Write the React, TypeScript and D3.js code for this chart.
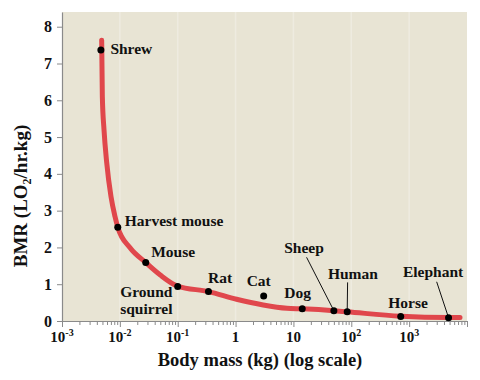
import React, { Component } from 'react';
import * as d3 from 'd3';

// 动物数据 (体重 kg, BMR L O2/hr.kg)
const animals = ['Shrew', 'Harvest mouse', 'Mouse', 'Ground squirrel', 'Rat', 'Cat', 'Dog', 'Sheep', 'Human', 'Horse', 'Elephant'];
const bodyMass = [0.0047, 0.0092, 0.028, 0.1, 0.34, 3.06, 14.2, 50, 85, 715, 4800];
const bmr = [7.37, 2.55, 1.59, 0.94, 0.8, 0.68, 0.33, 0.28, 0.25, 0.12, 0.09];

// 拟合曲线 (读取自图)
const curveMass = [0.00485, 0.00498, 0.00532, 0.00593, 0.00703, 0.00824, 0.0092, 0.015, 0.028, 0.05, 0.099, 0.34, 1.04, 3.0, 7.7, 14.2, 50, 85, 715, 4800, 7570];
const curveBmr = [7.63, 6.1, 5.2, 4.3, 3.38, 2.84, 2.55, 1.99, 1.59, 1.25, 0.95, 0.8, 0.59, 0.435, 0.345, 0.33, 0.28, 0.25, 0.13, 0.095, 0.095];

const yTicks = [0, 1, 2, 3, 4, 5, 6, 7, 8];
const xDecades = [-3, -2, -1, 0, 1, 2, 3, 4];
const xLabelPowers = [-3, -2, -1, 0, 1, 2, 3];

// 标签相对于点的偏移
const labelLayout: Record<string, { dx: number; dy: number; wrap?: boolean; leader?: [number, number] }> = {
  Shrew: { dx: 9.5, dy: 4 },
  'Harvest mouse': { dx: 7, dy: -1 },
  Mouse: { dx: 5.5, dy: -6 },
  'Ground squirrel': { dx: -57.5, dy: 10.5, wrap: true },
  Rat: { dx: -0.5, dy: -8.5 },
  Cat: { dx: -17, dy: -10 },
  Dog: { dx: -18, dy: -10.7 },
  Sheep: { dx: -49.7, dy: -58, leader: [-27.3, -53.4] },
  Human: { dx: -19.3, dy: -32.7, leader: [0.4, -29.4] },
  Horse: { dx: -12.4, dy: -8.8 },
  Elephant: { dx: -45.6, dy: -40.6, leader: [-11.9, -35.9] },
};

class BmrChart extends Component {
  svgRef = React.createRef<SVGSVGElement>();

  componentDidMount() {
    this.draw();
  }

  componentDidUpdate() {
    this.draw();
  }

  draw() {
    const svg = d3.select(this.svgRef.current);
    svg.selectAll('*').remove();

    const left = 62;
    const right = 467;
    const top = 12;
    const bottom = 321;
    const font = '"Liberation Serif", "Times New Roman", serif';
    const axisColor = '#8a8a8a';

    const x = d3.scaleLog().domain([1e-3, 1e4]).range([left, right]);
    const y = d3.scaleLinear().domain([0, 8.4]).range([bottom, top]);

    svg
      .append('rect')
      .attr('x', left)
      .attr('y', top)
      .attr('width', right - left)
      .attr('height', bottom - top)
      .attr('fill', '#e8e4d4');

    // 淡色网格
    svg
      .append('g')
      .selectAll('line')
      .data(xDecades.slice(1, -1))
      .join('line')
      .attr('x1', (d) => x(10 ** d))
      .attr('x2', (d) => x(10 ** d))
      .attr('y1', top)
      .attr('y2', bottom)
      .attr('stroke', '#eeebe0')
      .attr('stroke-width', 1.5);

    // y轴
    const axisY = d3.axisLeft(y).tickValues(yTicks).tickSize(5).tickSizeOuter(0).tickPadding(5).tickFormat(d3.format('d'));
    const axisYG = svg.append('g').attr('transform', `translate(${left},0)`).call(axisY);
    axisYG.select('.domain').attr('stroke', axisColor).attr('stroke-width', 1.2);
    axisYG.selectAll('.tick line').attr('stroke', axisColor);
    axisYG
      .selectAll('.tick text')
      .attr('fill', '#111')
      .attr('font-family', font)
      .attr('font-weight', 'bold')
      .attr('font-size', 16);

    // x轴 (对数)
    const xTickValues: number[] = [];
    xDecades.forEach((p) => {
      for (let k = 1; k <= 9; k++) {
        if (p < 4 || k === 1) xTickValues.push(k * 10 ** p);
      }
    });
    const isMajor = (d: number) => Math.abs(Math.log10(d) - Math.round(Math.log10(d))) < 1e-9;
    const axisX = d3.axisBottom(x).tickValues(xTickValues).tickSize(4).tickSizeOuter(0).tickFormat(() => '');
    const axisXG = svg.append('g').attr('transform', `translate(0,${bottom})`).call(axisX);
    axisXG.select('.domain').attr('stroke', axisColor).attr('stroke-width', 1.2);
    axisXG
      .selectAll('.tick line')
      .attr('stroke', axisColor)
      .attr('y2', (d: any) => (isMajor(d) ? 6 : 4));

    svg
      .append('g')
      .selectAll('text')
      .data(xLabelPowers)
      .join('text')
      .attr('x', (d) => x(10 ** d))
      .attr('y', 342)
      .attr('text-anchor', 'middle')
      .attr('font-family', font)
      .attr('font-weight', 'bold')
      .attr('font-size', 15)
      .attr('fill', '#111')
      .each(function (d) {
        const t = d3.select(this);
        if (d === 0) t.text('1');
        else if (d === 1) t.text('10');
        else {
          t.append('tspan').text('10');
          t.append('tspan').attr('dy', -6).attr('font-size', 10).text(d < 0 ? `-${-d}` : `${d}`);
        }
      });

    // 曲线
    const line = d3
      .line<number>()
      .x((d, i) => x(curveMass[i]))
      .y((d) => y(d))
      .curve(d3.curveMonotoneX);
    svg
      .append('path')
      .datum(curveBmr)
      .attr('d', line)
      .attr('fill', 'none')
      .attr('stroke', '#e0474c')
      .attr('stroke-width', 5)
      .attr('stroke-linecap', 'round');

    // 引线
    const points = animals.map((name, i) => ({ name, cx: x(bodyMass[i]), cy: y(bmr[i]), layout: labelLayout[name] }));
    svg
      .append('g')
      .selectAll('line')
      .data(points.filter((p) => p.layout.leader))
      .join('line')
      .attr('x1', (p) => p.cx + p.layout.leader![0])
      .attr('y1', (p) => p.cy + p.layout.leader![1])
      .attr('x2', (p) => p.cx)
      .attr('y2', (p) => p.cy)
      .attr('stroke', '#111')
      .attr('stroke-width', 1);

    svg
      .append('g')
      .selectAll('circle')
      .data(points)
      .join('circle')
      .attr('cx', (p) => p.cx)
      .attr('cy', (p) => p.cy)
      .attr('r', 3.5)
      .attr('fill', '#000');

    svg
      .append('g')
      .selectAll('text')
      .data(points)
      .join('text')
      .attr('x', (p) => p.cx + p.layout.dx)
      .attr('y', (p) => p.cy + p.layout.dy)
      .attr('font-family', font)
      .attr('font-weight', 'bold')
      .attr('font-size', 15.5)
      .attr('fill', '#111')
      .each(function (p) {
        const t = d3.select(this);
        if (p.layout.wrap) {
          p.name.split(' ').forEach((w, i) => {
            t.append('tspan')
              .attr('x', p.cx + p.layout.dx)
              .attr('dy', i === 0 ? 0 : 16.7)
              .text(w);
          });
        } else {
          t.text(p.name);
        }
      });

    // 坐标轴标题
    svg
      .append('text')
      .attr('x', 260)
      .attr('y', 366)
      .attr('text-anchor', 'middle')
      .attr('font-family', font)
      .attr('font-weight', 'bold')
      .attr('font-size', 18.5)
      .attr('fill', '#111')
      .text('Body mass (kg) (log scale)');

    const yTitle = svg
      .append('text')
      .attr('transform', 'translate(27,196) rotate(-90)')
      .attr('text-anchor', 'middle')
      .attr('font-family', font)
      .attr('font-weight', 'bold')
      .attr('font-size', 19)
      .attr('fill', '#111');
    yTitle.append('tspan').text('BMR (LO');
    yTitle.append('tspan').attr('dy', 4).attr('font-size', 12).text('2');
    yTitle.append('tspan').attr('dy', -4).text('/hr.kg)');
  }

  render() {
    return <svg ref={this.svgRef} width={480} height={380} style={{ position: 'absolute', left: 0, top: 0, background: '#fff' }} />;
  }
}

export default function App() {
  return <BmrChart />;
}
